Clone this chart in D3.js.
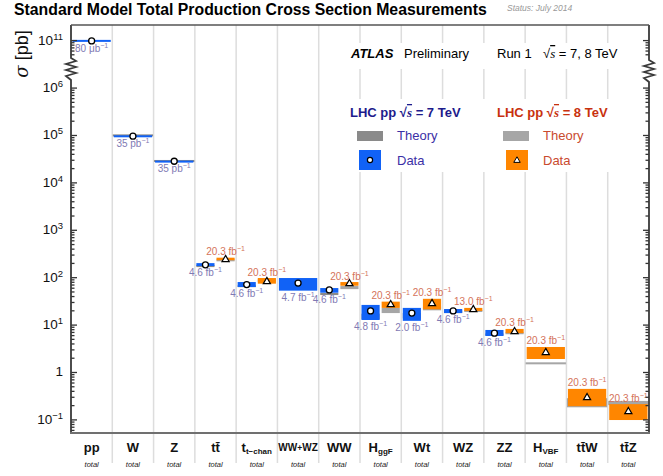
<!DOCTYPE html>
<html>
<head>
<meta charset="utf-8">
<script src="https://cdn.jsdelivr.net/npm/d3@7"></script>
<style>
  body { margin: 0; background: #fff; }
  text { font-family: "Liberation Sans", Arial, sans-serif; }
</style>
</head>
<body>
<svg id="chart" width="663" height="476"></svg>
<script>
// categories and labels
const cats = ["pp", "W", "Z", "tt", "tchan", "WWWZ", "WW", "HggF", "Wt", "WZ", "ZZ", "HVBF", "ttW", "ttZ"];
const catMain = ["pp", "W", "Z", "tt\u0304", "t", "WW+WZ", "WW", "H", "Wt", "WZ", "ZZ", "H", "tt\u0304W", "tt\u0304Z"];
const catSub = ["", "", "", "", "t\u2212chan", "", "", "ggF", "", "", "", "VBF", "", ""];

// 7 TeV measurements (pb)
const val7 = [9.6e10, 9.45e4, 2.79e4, 182, 70, 75, 54, 19.4, 17.5, 19.4, 6.6, null, null, null];
const lo7 = [9.2e10, 9.1e4, 2.7e4, 172, 62, 52, 47, 12.5, 12, 17.5, 5.75, null, null, null];
const hi7 = [1.01e11, 9.85e4, 2.88e4, 198, 79, 96, 59, 26, 22.5, 21.3, 7.7, null, null, null];
const thLo7 = [null, 9.7e4, 2.8e4, 165, 62, null, 42, 13, 13.5, 17.5, 6.0, null, null, null];
const thHi7 = [null, 1.03e5, 2.97e4, 180, 68, null, 46.5, 17, 17.5, 20, 6.5, null, null, null];
const lumi7 = ["80 \u03bcb", "35 pb", "35 pb", "4.6 fb", "4.6 fb", "4.7 fb", "4.6 fb", "4.8 fb", "2.0 fb", "4.6 fb", "4.6 fb", null, null, null];

// 8 TeV measurements (pb)
const val8 = [null, null, null, 242, 83, null, 75, 27, 28.5, 21.3, 7.3, 2.64, 0.296, 0.15];
const lo8 = [null, null, null, 228, 73, null, 66, 22.5, 21, 19.4, 6.6, 1.88, 0.19, 0.097];
const hi8 = [null, null, null, 258, 96, null, 79, 30.5, 35, 22.5, 8.1, 3.37, 0.44, 0.21];
const thLo8 = [null, null, null, 218, 80, null, 56, 17.5, 20, 18.8, 6.4, 1.47, 0.18, 0.2];
const thHi8 = [null, null, null, 238, 90, null, 65, 22.5, 24, 20.3, 6.9, 1.6, 0.28, 0.245];
const lumi8 = [null, null, null, "20.3 fb", "20.3 fb", null, "20.3 fb", "20.3 fb", "20.3 fb", "13.0 fb", "20.3 fb", "20.3 fb", "20.3 fb", "20.3 fb"];

const majorLow = [0.1, 1, 10, 100, 1e3, 1e4, 1e5, 1e6];
const majorHigh = [1e11];

const blue = "#1162f6", orange = "#ff8600";
const th7col = "#8a8a8a", th8col = "#a6a6a6";
const lab7col = "#7f7ab4", lab8col = "#d4735a";

const svg = d3.select("#chart");
const pL = 71, pR = 649, pT = 25, pB = 433;

const x = d3.scaleBand().domain(cats).range([pL, pR]).padding(0);
const bw = x.bandwidth();
// broken log axis: low part and high part (pp)
const yLow = d3.scaleLog().domain([Math.pow(10, -1.287), Math.pow(10, 6.16)]).range([pB, 80]);
const yHigh = d3.scaleLog().domain([Math.pow(10, 10.62), Math.pow(10, 11.32)]).range([58, pT]);
const yOf = v => v > 1e8 ? yHigh(v) : yLow(v);

// minor ticks
const minorLow = [];
for (let e = -2; e <= 6; e++) for (let k = 2; k <= 9; k++) {
  const v = k * Math.pow(10, e);
  const [a, b] = yLow.domain();
  if (v > a && v < b) minorLow.push(v);
}
const minorHigh = [5e10, 6e10, 7e10, 8e10, 9e10];

// grid lines
svg.append("g").selectAll("line").data(cats.slice(1)).join("line")
  .attr("x1", d => x(d)).attr("x2", d => x(d))
  .attr("y1", pT).attr("y2", 463)
  .attr("stroke", "#dddddd").attr("stroke-width", 1.5);

// white boxes behind header texts
svg.append("rect").attr("x", 340).attr("y", 43).attr("width", 306).attr("height", 26).attr("fill", "#fff");
svg.append("rect").attr("x", 340).attr("y", 99).attr("width", 306).attr("height", 73).attr("fill", "#fff");

// horizontal extents for each energy in a column
function span(i, which) {
  const x0 = x(cats[i]);
  const both = val7[i] != null && val8[i] != null;
  if (!both) return [x0 + 1.5, x0 + bw - 1.5];
  if (which === 7) return [x0 + 1.5, x0 + bw / 2 - 1];
  return [x0 + bw / 2 + 1, x0 + bw - 1.5];
}

const marks = svg.append("g");
cats.forEach((c, i) => {
  [[7, val7, thLo7, thHi7, th7col], [8, val8, thLo8, thHi8, th8col]].forEach(s => {
    const [E, val, tlo, thi, tcol] = s;
    if (val[i] == null || tlo[i] == null) return;
    const [xa, xb] = span(i, E);
    const single = !(val7[i] != null && val8[i] != null);
    const ta = single ? x(c) + 0.5 : xa, tb = single ? x(c) + bw - 0.5 : xb;
    const y1 = yOf(thi[i]), y2 = yOf(tlo[i]);
    marks.append("rect").attr("x", ta).attr("width", tb - ta)
      .attr("y", y1).attr("height", Math.max(2, y2 - y1)).attr("fill", tcol);
  });
});
cats.forEach((c, i) => {
  [[7, val7, lo7, hi7, blue], [8, val8, lo8, hi8, orange]].forEach(s => {
    const [E, val, lo, hi, col] = s;
    if (val[i] == null) return;
    const [xa, xb] = span(i, E);
    const y1 = yOf(hi[i]), y2 = yOf(lo[i]);
    marks.append("rect").attr("x", xa).attr("width", xb - xa)
      .attr("y", y1).attr("height", Math.max(2, y2 - y1)).attr("fill", col);
  });
});
// markers
cats.forEach((c, i) => {
  if (val7[i] != null) {
    const [xa, xb] = span(i, 7);
    marks.append("circle").attr("cx", (xa + xb) / 2).attr("cy", yOf(val7[i])).attr("r", 3)
      .attr("fill", "#fff").attr("stroke", "#000").attr("stroke-width", 1.3);
  }
  if (val8[i] != null) {
    const [xa, xb] = span(i, 8);
    marks.append("path").attr("d", d3.symbol(d3.symbolTriangle, 22)())
      .attr("transform", `translate(${(xa + xb) / 2},${yOf(val8[i]) + 0.5})`)
      .attr("fill", "#fff").attr("stroke", "#000").attr("stroke-width", 1.2);
  }
});

// luminosity labels
function lumiLabel(xc, yb, txt, col) {
  const t = svg.append("text").attr("x", xc).attr("y", yb).attr("text-anchor", "middle")
    .attr("font-size", 10).attr("fill", col);
  t.append("tspan").text(txt);
  t.append("tspan").attr("dy", -4).attr("font-size", 7).text("\u22121");
}
cats.forEach((c, i) => {
  if (lumi7[i] != null) {
    const [xa, xb] = span(i, 7);
    lumiLabel((xa + xb) / 2, yOf(lo7[i]) + 10, lumi7[i], lab7col);
  }
  if (lumi8[i] != null) {
    const [xa, xb] = span(i, 8);
    lumiLabel((xa + xb) / 2, yOf(hi8[i]) - 2.5, lumi8[i], lab8col);
  }
});

// axes (ticks only; axis lines drawn with breaks)
function tickAxis(axisFn, scale, xpos, vals, size) {
  const g = svg.append("g").attr("transform", `translate(${xpos},0)`)
    .call(axisFn(scale).tickValues(vals).tickSize(size).tickSizeOuter(0).tickFormat(""));
  g.select(".domain").remove();
  g.selectAll(".tick line").attr("stroke", "#333").attr("stroke-width", 1.3);
}
tickAxis(d3.axisRight, yLow, pL, majorLow, 6);
tickAxis(d3.axisRight, yLow, pL, minorLow, 3.5);
tickAxis(d3.axisRight, yHigh, pL, majorHigh, 6);
tickAxis(d3.axisRight, yHigh, pL, minorHigh, 3.5);
tickAxis(d3.axisLeft, yLow, pR, majorLow, 6);
tickAxis(d3.axisLeft, yLow, pR, minorLow, 3.5);
tickAxis(d3.axisLeft, yHigh, pR, majorHigh, 6);
tickAxis(d3.axisLeft, yHigh, pR, minorHigh, 3.5);

// axis lines with zigzag breaks
svg.append("path")
  .attr("d", `M${pL},${pT}V58L76,61L66,64L76,67L66,70L76,73L66,76L${pL},80V${pB}`)
  .attr("fill", "none").attr("stroke", "#3a3a3a").attr("stroke-width", 1.8);
svg.append("path")
  .attr("d", `M${pR},${pT}V60L654,63L644,66L654,69L644,72L654,75L644,78L${pR},82V${pB}`)
  .attr("fill", "none").attr("stroke", "#3a3a3a").attr("stroke-width", 1.8);
svg.append("line").attr("x1", pL).attr("x2", pR).attr("y1", pT).attr("y2", pT)
  .attr("stroke", "#555").attr("stroke-width", 1.5);
svg.append("line").attr("x1", pL - 1).attr("x2", pR + 1).attr("y1", pB).attr("y2", pB)
  .attr("stroke", "#707070").attr("stroke-width", 2.2);

// y tick labels
function expLabel(v, y) {
  const e = Math.round(Math.log10(v));
  const t = svg.append("text").attr("x", 63).attr("y", y + 4.5).attr("text-anchor", "end")
    .attr("font-family", "Liberation Serif, serif").attr("font-size", 13.5).attr("fill", "#111");
  if (e === 0) { t.text("1"); return; }
  t.append("tspan").text("10");
  t.append("tspan").attr("dy", -5).attr("font-size", 9.5).text(e < 0 ? "\u2212" + (-e) : String(e));
}
majorLow.forEach(v => expLabel(v, yLow(v)));
majorHigh.forEach(v => expLabel(v, yHigh(v)));

// y axis title
const yt = svg.append("text").attr("transform", "translate(28,54) rotate(-90)")
  .attr("text-anchor", "middle").attr("font-size", 18).attr("fill", "#111");
yt.append("tspan").attr("font-family", "DejaVu Serif, serif").attr("font-style", "italic").text("\u03c3");
yt.append("tspan").text(" [pb]");

// category labels
cats.forEach((c, i) => {
  const xc = x(c) + bw / 2;
  const t = svg.append("text").attr("x", xc).attr("y", 452).attr("text-anchor", "middle")
    .attr("font-family", "DejaVu Sans, sans-serif").attr("font-weight", "bold")
    .attr("font-size", 13).attr("fill", "#111");
  if (c === "WWWZ") {
    t.attr("font-size", 10).attr("y", 451);
    t.append("tspan").text("WW");
    t.append("tspan").attr("font-size", 8.5).text("+");
    t.append("tspan").text("WZ");
  } else {
    t.append("tspan").text(catMain[i]);
    if (catSub[i]) {
      t.append("tspan").attr("font-size", 8).attr("dy", 2).text(catSub[i]);
    }
  }
  svg.append("text").attr("x", xc).attr("y", 467).attr("text-anchor", "middle")
    .attr("font-size", 7.5).attr("font-style", "italic").attr("fill", "#222").text("total");
});

// title
svg.append("text").attr("x", 14).attr("y", 15).attr("font-size", 15.8).attr("font-weight", "bold")
  .attr("fill", "#000").text("Standard Model Total Production Cross Section Measurements");
svg.append("text").attr("x", 507).attr("y", 11).attr("font-size", 8.5).attr("font-style", "italic")
  .attr("fill", "#999").text("Status: July 2014");

// header
svg.append("text").attr("x", 351).attr("y", 58).attr("font-size", 13).attr("font-weight", "bold")
  .attr("font-style", "italic").attr("fill", "#000").text("ATLAS");
svg.append("text").attr("x", 404).attr("y", 58).attr("font-size", 13).attr("fill", "#000").text("Preliminary");
svg.append("text").attr("x", 497).attr("y", 58).attr("font-size", 13).attr("fill", "#000").text("Run 1");
function sqrtS(t) {
  t.append("tspan").text("\u221a");
  t.append("tspan").attr("font-family", "Liberation Serif, serif").attr("font-style", "italic")
    .attr("text-decoration", "overline").text("s");
}
const rs = svg.append("text").attr("x", 543).attr("y", 58).attr("font-size", 13).attr("fill", "#000");
sqrtS(rs);
rs.append("tspan").text(" = 7, 8 TeV");

// legend
const legendRows = [
  { x: 350, col: "#1d1b8c", txt: " = 7 TeV", thCol: th7col, dataCol: blue, tcol: "#3b30a6", sx: 357, dx: 359, lx: 397, mark: "circle" },
  { x: 497, col: "#c8310e", txt: " = 8 TeV", thCol: th8col, dataCol: orange, tcol: "#c94a2e", sx: 503, dx: 506, lx: 543, mark: "tri" }
];
legendRows.forEach(L => {
  const h = svg.append("text").attr("x", L.x).attr("y", 117).attr("font-size", 13)
    .attr("font-weight", "bold").attr("fill", L.col);
  h.append("tspan").text("LHC pp  ");
  sqrtS(h);
  h.append("tspan").text(L.txt);
  svg.append("rect").attr("x", L.sx).attr("y", 131).attr("width", 26).attr("height", 10).attr("fill", L.thCol);
  svg.append("text").attr("x", L.lx).attr("y", 140).attr("font-size", 13).attr("fill", L.tcol).text("Theory");
  svg.append("rect").attr("x", L.dx).attr("y", 150).attr("width", 22).attr("height", 20).attr("fill", L.dataCol);
  if (L.mark === "circle") {
    svg.append("circle").attr("cx", L.dx + 11).attr("cy", 160).attr("r", 2.6)
      .attr("fill", "#fff").attr("stroke", "#000").attr("stroke-width", 1.2);
  } else {
    svg.append("path").attr("d", d3.symbol(d3.symbolTriangle, 18)())
      .attr("transform", `translate(${L.dx + 11},160.5)`)
      .attr("fill", "#fff").attr("stroke", "#000").attr("stroke-width", 1);
  }
  svg.append("text").attr("x", L.lx).attr("y", 165).attr("font-size", 13).attr("fill", L.tcol).text("Data");
});
</script>
</body>
</html>
